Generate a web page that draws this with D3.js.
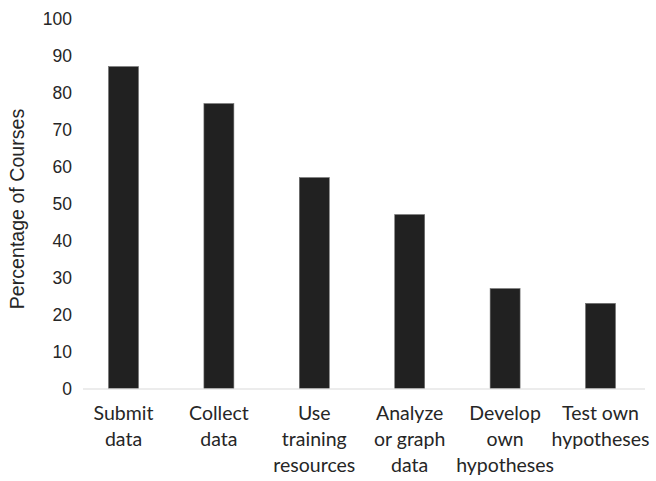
<!DOCTYPE html>
<html><head><meta charset="utf-8">
<script src="https://cdn.jsdelivr.net/npm/d3@7"></script>
<style>body{margin:0;background:#fff}</style>
</head><body>
<script>
const categories = [["Submit","data"],["Collect","data"],["Use","training","resources"],["Analyze","or graph","data"],["Develop","own","hypotheses"],["Test own","hypotheses"]];
const values = [87, 77, 57, 47, 27, 23];
const yTicks = [0,10,20,30,40,50,60,70,80,90,100];
const yTitle = "Percentage of Courses";

const W = 656, H = 481;
const svg = d3.select("body").append("svg").attr("width", W).attr("height", H);

const x = d3.scaleBand().domain(categories.map((d,i)=>i)).range([75.8, 648.2]).paddingInner(0.686).paddingOuter(0.343);
const y = d3.scaleLinear().domain([0,100]).range([388.5, 18.5]);

// bars
svg.append("g").selectAll("rect").data(values).join("rect")
  .attr("x", (d,i)=>x(i)).attr("width", x.bandwidth())
  .attr("y", d=>y(d)).attr("height", d=>y(0)-y(d))
  .attr("fill", "#212121").attr("stroke", "#6e6e6e").attr("stroke-width", 0.6);

// x axis line
svg.append("line").attr("x1", 83).attr("x2", 645).attr("y1", y(0)+0.5).attr("y2", y(0)+0.5)
  .attr("stroke", "#d9d9d9").attr("stroke-width", 1.2);

// y axis labels
const yAxis = d3.axisLeft(y).tickValues(yTicks).tickSize(0).tickPadding(0);
const gy = svg.append("g").attr("transform", "translate(72,0)").call(yAxis);
gy.select(".domain").remove();
gy.selectAll("text").attr("font-family", "Liberation Sans, Arial, sans-serif")
  .attr("font-size", 17.5).attr("fill", "#262626").attr("dy", "0.35em");

// category labels
const gx = svg.append("g");
categories.forEach((lines, i) => {
  const t = gx.append("text").attr("text-anchor", "middle")
    .attr("font-family", "Lato, 'Open Sans', sans-serif").attr("font-size", 19.5).attr("fill", "#262626");
  lines.forEach((s, j) => {
    t.append("tspan").attr("x", x(i) + x.bandwidth()/2).attr("y", 420 + j*25.8).text(s);
  });
});

// y title
svg.append("text").attr("transform", "translate(24,209) rotate(-90)").attr("text-anchor", "middle")
  .attr("font-family", "Liberation Sans, Arial, sans-serif").attr("font-size", 19.6).attr("fill", "#262626")
  .text(yTitle);
</script>
</body></html>
